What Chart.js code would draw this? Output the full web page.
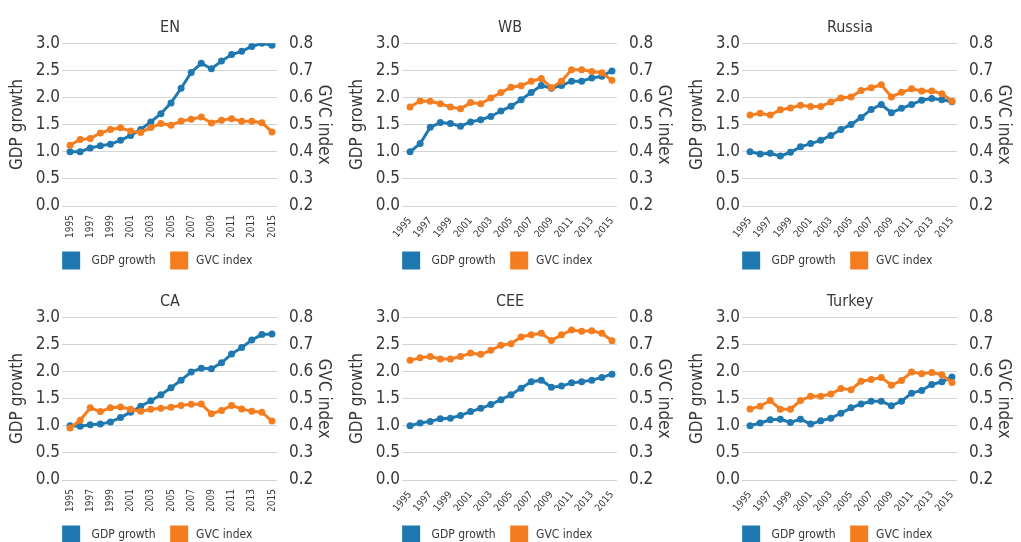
<!DOCTYPE html>
<html>
<head>
<meta charset="utf-8">
<script src="https://cdn.jsdelivr.net/npm/chart.js@4/dist/chart.umd.min.js"></script>
<style>
  html, body { margin: 0; padding: 0; background: #fff; }
  #wrap { position: relative; width: 1021px; height: 542px; overflow: hidden; }
  .panel { position: absolute; width: 340px; height: 278px; }
</style>
</head>
<body>
<div id="wrap">
  <div class="panel" style="left:0;top:0"><canvas id="c0" width="340" height="278"></canvas></div>
  <div class="panel" style="left:340px;top:0"><canvas id="c1" width="340" height="278"></canvas></div>
  <div class="panel" style="left:680px;top:0"><canvas id="c2" width="340" height="278"></canvas></div>
  <div class="panel" style="left:0;top:274px"><canvas id="c3" width="340" height="278"></canvas></div>
  <div class="panel" style="left:340px;top:274px"><canvas id="c4" width="340" height="278"></canvas></div>
  <div class="panel" style="left:680px;top:274px"><canvas id="c5" width="340" height="278"></canvas></div>
</div>
<script>
// x axis categories
const years = ['1995','1996','1997','1998','1999','2000','2001','2002','2003','2004','2005',
  '2006','2007','2008','2009','2010','2011','2012','2013','2014','2015'];

// panel titles
const regions = ['EN', 'WB', 'Russia', 'CA', 'CEE', 'Turkey'];

// GDP growth (1995 = 1), left axis
const enGdp  = [1.00,1.00,1.07,1.11,1.14,1.21,1.30,1.41,1.55,1.70,1.90,2.17,2.46,2.63,2.53,2.67,2.79,2.85,2.94,3.00,2.96];
const wbGdp  = [1.00,1.15,1.45,1.54,1.52,1.47,1.55,1.59,1.65,1.75,1.84,1.96,2.09,2.22,2.17,2.22,2.30,2.30,2.36,2.39,2.49];
const ruGdp  = [1.00,0.96,0.97,0.92,0.99,1.09,1.15,1.21,1.30,1.41,1.50,1.63,1.78,1.87,1.72,1.80,1.87,1.95,1.98,1.96,1.92];
const caGdp  = [1.00,0.99,1.02,1.03,1.07,1.15,1.25,1.36,1.46,1.57,1.70,1.84,1.99,2.06,2.05,2.16,2.32,2.44,2.58,2.68,2.69];
const ceeGdp = [1.00,1.05,1.08,1.13,1.14,1.19,1.26,1.32,1.39,1.48,1.57,1.69,1.81,1.84,1.71,1.73,1.79,1.81,1.84,1.89,1.95];
const trGdp  = [1.00,1.05,1.11,1.12,1.06,1.12,1.03,1.09,1.14,1.23,1.33,1.40,1.45,1.45,1.37,1.45,1.60,1.65,1.76,1.81,1.90];

// GVC index, right axis
const enGvc  = [0.424,0.445,0.449,0.469,0.482,0.488,0.476,0.471,0.489,0.504,0.498,0.513,0.520,0.528,0.506,0.516,0.522,0.512,0.512,0.507,0.473];
const wbGvc  = [0.565,0.587,0.586,0.577,0.565,0.558,0.581,0.577,0.598,0.618,0.638,0.643,0.660,0.670,0.636,0.660,0.702,0.702,0.696,0.691,0.663];
const ruGvc  = [0.535,0.542,0.535,0.555,0.561,0.571,0.567,0.567,0.583,0.598,0.602,0.626,0.636,0.647,0.602,0.619,0.632,0.624,0.624,0.614,0.586];
const caGvc  = [0.392,0.420,0.466,0.452,0.466,0.469,0.461,0.453,0.461,0.464,0.468,0.475,0.479,0.480,0.444,0.456,0.475,0.462,0.453,0.450,0.417];
const ceeGvc = [0.641,0.651,0.655,0.646,0.646,0.655,0.668,0.663,0.678,0.697,0.702,0.727,0.735,0.741,0.714,0.735,0.753,0.748,0.750,0.741,0.713];
const trGvc  = [0.462,0.472,0.493,0.461,0.461,0.493,0.509,0.509,0.517,0.537,0.533,0.564,0.570,0.578,0.549,0.567,0.598,0.592,0.596,0.588,0.559];

const BLUE = '#1f78b0';
const ORANGE = '#f47d20';
const FONT = '"DejaVu Sans Condensed", "Liberation Sans", sans-serif';
const TEXT = '#383838';

Chart.defaults.font.family = FONT;
Chart.defaults.color = TEXT;

// nudge the legend a little to the left, like the original layout
const legendShift = {
  id: 'legendShift',
  afterLayout(chart) {
    chart.legend.left -= 12;
    chart.legend.right -= 12;
  }
};

function makeChart(id, title, gdp, gvc, rot) {
  const ctx = document.getElementById(id).getContext('2d');
  return new Chart(ctx, {
    type: 'line',
    data: {
      labels: years,
      datasets: [
        { label: 'GDP growth', data: gdp, yAxisID: 'y', order: 1,
          borderColor: BLUE, backgroundColor: BLUE, borderWidth: 3,
          pointRadius: 3.5, pointBorderWidth: 0 },
        { label: 'GVC index', data: gvc, yAxisID: 'y1', order: 0,
          borderColor: ORANGE, backgroundColor: ORANGE, borderWidth: 3,
          pointRadius: 3.5, pointBorderWidth: 0 }
      ]
    },
    plugins: [legendShift],
    options: {
      responsive: false,
      animation: false,
      events: [],
      layout: { padding: 0 },
      plugins: {
        title: { display: true, text: title, color: TEXT,
          font: { size: 16, weight: 'normal' }, padding: { top: 18, bottom: 6 } },
        legend: { position: 'bottom',
          labels: { boxWidth: 15, boxHeight: 15, padding: 16, color: TEXT,
            font: { size: 12 }, sort: (a, b) => a.datasetIndex - b.datasetIndex,
            generateLabels: chart => {
              const items = Chart.defaults.plugins.legend.labels.generateLabels(chart);
              items.forEach(it => { it.text = (it.datasetIndex === 0 ? '  ' : ' ') + it.text; });
              return items;
            } } },
        tooltip: { enabled: false }
      },
      scales: {
        x: {
          offset: true,
          grid: { display: false, drawTicks: false },
          border: { display: false },
          ticks: { autoSkip: false, minRotation: rot, maxRotation: rot, padding: 9,
            font: { size: 10 }, color: TEXT,
            callback: (v, i) => (i % 2 === 0 ? years[i] : '') },
          afterFit: s => { s.height = 31; }
        },
        y: {
          position: 'left', min: 0, max: 3,
          grid: { color: '#d4d4d4', lineWidth: 1, tickLength: 3 },
          border: { display: false },
          ticks: { stepSize: 0.5, padding: 2, font: { size: 17 }, color: TEXT,
            callback: v => v.toFixed(1) },
          title: { display: true, text: 'GDP growth', color: TEXT,
            font: { size: 17 }, padding: { top: 7, bottom: 0 } },
          afterFit: s => { s.width = 65; }
        },
        y1: {
          position: 'right', min: 0.2, max: 0.8,
          grid: { display: false, drawTicks: false },
          border: { display: false },
          ticks: { stepSize: 0.1, padding: 12, font: { size: 17 }, color: TEXT,
            callback: v => v.toFixed(1) },
          title: { display: true, text: 'GVC index', color: TEXT,
            font: { size: 17 }, padding: { top: 6, bottom: 0 } },
          afterFit: s => { s.width = 63; }
        }
      }
    }
  });
}

makeChart('c0', regions[0], enGdp, enGvc, 90);
makeChart('c1', regions[1], wbGdp, wbGvc, 50);
makeChart('c2', regions[2], ruGdp, ruGvc, 50);
makeChart('c3', regions[3], caGdp, caGvc, 90);
makeChart('c4', regions[4], ceeGdp, ceeGvc, 50);
makeChart('c5', regions[5], trGdp, trGvc, 50);
</script>
</body>
</html>
